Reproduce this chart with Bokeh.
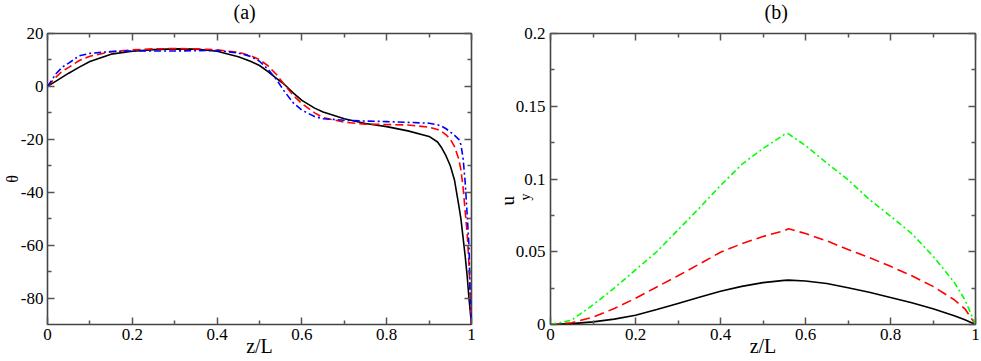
from bokeh.plotting import figure
from bokeh.layouts import row
from bokeh.models import LinearAxis, FixedTicker, Range1d, Title, CustomJSTickFormatter
from bokeh.embed import file_html
from bokeh.resources import INLINE

# ---------------- data: panel (a) theta vs z/L ----------------
z_a = [0, 0.02, 0.035, 0.05, 0.075, 0.1, 0.15, 0.2, 0.25, 0.3, 0.35, 0.4, 0.45, 0.48,
       0.5, 0.52, 0.54, 0.557, 0.58, 0.6, 0.63, 0.65, 0.7, 0.75, 0.8, 0.85, 0.9, 0.92,
       0.93, 0.94, 0.95, 0.96, 0.97, 0.975, 0.98, 0.985, 0.99, 0.994, 0.997, 1.0]
theta_black = [0, 2.0, 3.5, 5.0, 7.3, 9.4, 12.2, 13.3, 13.9, 14.2, 14.1, 13.3, 11.2, 9.4,
               7.9, 5.6, 3.0, 1.0, -2.5, -5.3, -8.2, -9.7, -12.2, -14.0, -15.2, -16.8, -18.9, -21.0,
               -23.3, -26.3, -30.0, -35.5, -45.0, -50.0, -57.0, -64.0, -72.0, -80.0, -85.0, -90.0]
theta_red = [0, 3.5, 5.8, 7.2, 9.8, 11.4, 13.1, 13.8, 14.2, 14.3, 14.2, 13.8, 12.9, 11.6,
             10.1, 7.8, 4.5, 1.0, -3.5, -6.5, -10.0, -11.8, -13.5, -14.3, -14.4, -14.6, -15.4, -16.3,
             -17.1, -18.3, -20.0, -22.8, -27.5, -31.5, -38.0, -47.0, -56.0, -67.0, -80.0, -90.0]
theta_blue = [0, 4.8, 7.3, 8.8, 11.6, 12.5, 13.2, 13.4, 13.4, 13.4, 13.5, 13.6, 12.6, 11.3,
              9.5, 6.5, 2.6, -1.5, -6.3, -9.0, -11.4, -12.2, -12.8, -13.1, -13.3, -13.6, -13.9, -14.5,
              -15.1, -16.0, -17.2, -18.5, -20.0, -22.0, -27.0, -36.0, -49.0, -60.0, -80.0, -90.0]

# ---------------- data: panel (b) u_y vs z/L ----------------
z_b = [0, 0.05, 0.1, 0.15, 0.2, 0.25, 0.3, 0.35, 0.4, 0.45, 0.5, 0.55, 0.56, 0.6, 0.65,
       0.7, 0.75, 0.8, 0.85, 0.9, 0.95, 0.975, 1.0]
uy_black = [0, 0.0006, 0.0018, 0.0037, 0.0064, 0.0103, 0.0145, 0.0187, 0.0228, 0.0262, 0.0288,
            0.0303, 0.0305, 0.0299, 0.0282, 0.0253, 0.0222, 0.0186, 0.0150, 0.0108, 0.0060, 0.0032, 0]
uy_red = [0, 0.0012, 0.0050, 0.0110, 0.0180, 0.0258, 0.0335, 0.0415, 0.0497, 0.0555, 0.0605,
          0.0645, 0.0658, 0.0625, 0.0575, 0.0515, 0.0460, 0.0400, 0.0335, 0.0262, 0.0170, 0.0108, 0]
uy_green = [0, 0.003, 0.0135, 0.025, 0.0375, 0.050, 0.065, 0.080, 0.0955, 0.110, 0.121,
            0.1305, 0.131, 0.123, 0.111, 0.0995, 0.086, 0.0745, 0.0625, 0.047, 0.029, 0.017, 0]

# ---------------- ticks ----------------
x_ticks = [0, 0.2, 0.4, 0.6, 0.8, 1.0]
x_minor = [0.1, 0.3, 0.5, 0.7, 0.9]
x_labels = ["0", "0.2", "0.4", "0.6", "0.8", "1"]
ya_ticks = [-80, -60, -40, -20, 0, 20]
ya_minor = [-70, -50, -30, -10, 10]
ya_labels = ["-80", "-60", "-40", "-20", "0", "20"]
yb_ticks = [0, 0.05, 0.1, 0.15, 0.2]
yb_minor = [0.025, 0.075, 0.125, 0.175]
yb_labels = ["0", "0.05", "0.1", "0.15", "0.2"]

FONT = "Liberation Serif"
TICK_COLOR = "#555555"

LOOKUP = ("for (let i = 0; i < tvals.length; i++) {"
          " if (Math.abs(tvals[i] - tick) < 1e-9) { return tlabels[i]; } }"
          " return '';")


def style_axis(ax, ticks, minor, labels, standoff, font_size="17px"):
    ax.ticker = FixedTicker(ticks=ticks, minor_ticks=minor)
    ax.major_tick_in = 7
    ax.major_tick_out = 0
    ax.minor_tick_in = 4
    ax.minor_tick_out = 0
    ax.major_tick_line_color = TICK_COLOR
    ax.minor_tick_line_color = TICK_COLOR
    ax.major_tick_line_width = 1.5
    ax.minor_tick_line_width = 1.5
    ax.axis_line_color = None
    ax.major_label_text_font = FONT
    ax.major_label_text_font_size = font_size
    ax.major_label_text_color = "black"
    ax.major_label_standoff = standoff
    ax.formatter = CustomJSTickFormatter(args=dict(tvals=ticks, tlabels=labels), code=LOOKUP)
    ax.axis_label_text_font = FONT
    ax.axis_label_text_font_style = "normal"
    ax.axis_label_text_color = "black"


def make_fig(width, bl, br, yr, yt, ym, yl, title, title_offset):
    p = figure(width=width, height=361, x_range=Range1d(0, 1), y_range=Range1d(*yr),
               output_backend="svg", toolbar_location=None, title=None,
               min_border_left=bl, min_border_right=br, min_border_top=33, min_border_bottom=37)
    p.xgrid.visible = False
    p.ygrid.visible = False
    p.outline_line_color = "#444444"
    p.outline_line_width = 1.6
    p.background_fill_color = "white"
    p.border_fill_color = "white"
    style_axis(p.xaxis[0], x_ticks, x_minor, x_labels, 4)
    p.xaxis[0].axis_label = "z/L"
    p.xaxis[0].axis_label_text_font_size = "20px"
    p.xaxis[0].axis_label_standoff = -8
    style_axis(p.yaxis[0], yt, ym, yl, 4)
    # mirrored tick marks on the top and right edges (no visible labels)
    top = LinearAxis()
    style_axis(top, x_ticks, x_minor, [" " for _ in x_ticks], 4, "6px")
    p.add_layout(top, "above")
    right = LinearAxis()
    style_axis(right, yt, ym, ["" for _ in yt], 0)
    p.add_layout(right, "right")
    p.add_layout(Title(text=title, align="left", offset=title_offset, vertical_align="top",
                       standoff=-9, text_font=FONT, text_font_size="20px",
                       text_font_style="normal", text_color="black"), "above")
    return p


# ---- panel (a) ----
pa = make_fig(498, 47, 27, (-90, 20), ya_ticks, ya_minor, ya_labels, "(a)", 186)
pa.yaxis[0].axis_label = "θ"
pa.yaxis[0].axis_label_text_font_size = "16px"
pa.yaxis[0].axis_label_standoff = -3
pa.line(z_a, theta_black, line_color="black", line_width=1.6)
pa.line(z_a, theta_red, line_color="#ff0000", line_width=1.6, line_dash="8 4")
pa.line(z_a, theta_blue, line_color="#0000ff", line_width=1.6, line_dash="7 3 2 3")

# ---- panel (b) ----
pb = make_fig(483, 52, 6, (0, 0.2), yb_ticks, yb_minor, yb_labels, "(b)", 214)
pb.yaxis[0].major_label_standoff = 5
pb.add_layout(Title(text="u", align="left", offset=119, vertical_align="bottom", standoff=-11,
                    text_font=FONT, text_font_size="19px", text_font_style="normal",
                    text_color="black"), "left")
pb.add_layout(Title(text="y", align="left", offset=124, vertical_align="bottom", standoff=-64,
                    text_font=FONT, text_font_size="14px", text_font_style="normal",
                    text_color="black"), "left")
pb.line(z_b, uy_black, line_color="black", line_width=1.6)
pb.line(z_b, uy_red, line_color="#ff0000", line_width=1.6, line_dash="10 5")
pb.line(z_b, uy_green, line_color="#00ff00", line_width=1.6, line_dash="6 3 2 3")

layout = row(pa, pb)

open("out.html", "w").write(file_html(layout, INLINE))
